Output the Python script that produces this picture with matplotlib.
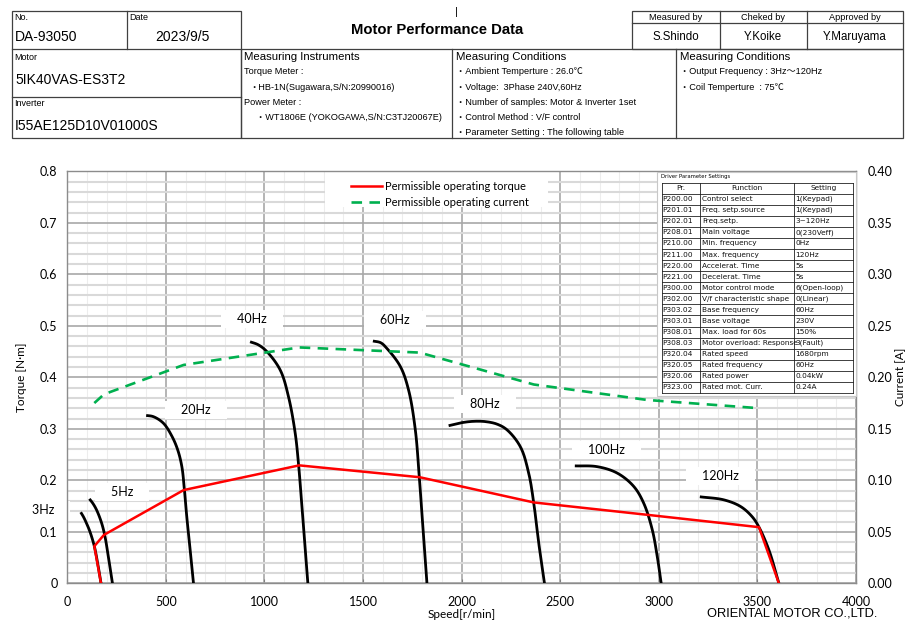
import numpy as np
import matplotlib
matplotlib.use('Agg')
import matplotlib.pyplot as plt
from matplotlib.patches import Rectangle
from matplotlib.lines import Line2D
from matplotlib.ticker import MultipleLocator, FormatStrFormatter

# ---------------- data ----------------
speed_3hz = [68, 82, 98, 115, 137, 157, 171]
torque_3hz = [0.138, 0.129, 0.116, 0.100, 0.072, 0.032, 0.0]
speed_5hz = [112, 130, 149, 174, 191, 208, 229]
torque_5hz = [0.164, 0.155, 0.142, 0.117, 0.091, 0.052, 0.0]
speed_20hz = [400, 437, 487, 530, 560, 581, 594, 606, 623, 640]
torque_20hz = [0.326, 0.3235, 0.311, 0.286, 0.259, 0.2265, 0.181, 0.129, 0.065, 0.0]
speed_40hz = [927, 969, 1012, 1080, 1122, 1156, 1173, 1190, 1220]
torque_40hz = [0.469, 0.463, 0.450, 0.414, 0.362, 0.291, 0.230, 0.149, 0.0]
speed_60hz = [1550, 1590, 1621, 1689, 1731, 1765, 1785, 1802, 1824]
torque_60hz = [0.4705, 0.467, 0.456, 0.421, 0.375, 0.298, 0.207, 0.117, 0.0]
speed_80hz = [1934, 2002, 2060, 2120, 2180, 2230, 2298, 2340, 2366, 2391, 2420]
torque_80hz = [0.306, 0.312, 0.3145, 0.314, 0.309, 0.298, 0.265, 0.214, 0.155, 0.078, 0.0]
speed_100hz = [2574, 2687, 2789, 2873, 2924, 2967, 2992, 3012]
torque_100hz = [0.228, 0.2265, 0.214, 0.188, 0.155, 0.1035, 0.052, 0.0]
speed_120hz = [3208, 3330, 3415, 3474, 3508, 3558, 3609]
torque_120hz = [0.168, 0.162, 0.149, 0.129, 0.109, 0.065, 0.0]

perm_torque_speed = [171, 137, 186, 590, 1176, 1787, 2366, 2941, 3508, 3609]
perm_torque = [0.0, 0.072, 0.094, 0.181, 0.229, 0.206, 0.157, 0.133, 0.109, 0.0]
perm_current_speed = [137, 186, 590, 1176, 1787, 2366, 2941, 3508]
perm_current = [0.175, 0.1835, 0.212, 0.229, 0.224, 0.193, 0.178, 0.170]

freq_labels = ['3Hz', '5Hz', '20Hz', '40Hz', '60Hz', '80Hz', '100Hz', '120Hz']
label_speed = [-123, 278, 653, 935, 1663, 2120, 2734, 3313]
label_torque = [0.142, 0.177, 0.337, 0.513, 0.511, 0.348, 0.259, 0.208]

x_ticks = [0, 500, 1000, 1500, 2000, 2500, 3000, 3500, 4000]

param_codes = ['P200.00', 'P201.01', 'P202.01', 'P208.01', 'P210.00', 'P211.00',
               'P220.00', 'P221.00', 'P300.00', 'P302.00', 'P303.02', 'P303.01',
               'P308.01', 'P308.03', 'P320.04', 'P320.05', 'P320.06', 'P323.00']
param_functions = ['Control select', 'Freq. setp.source', 'Freq.setp.', 'Main voltage',
                   'Min. frequency', 'Max. frequency', 'Accelerat. Time', 'Decelerat. Time',
                   'Motor control mode', 'V/f characteristic shape', 'Base frequency',
                   'Base voltage', 'Max. load for 60s', 'Motor overload: Response',
                   'Rated speed', 'Rated frequency', 'Rated power', 'Rated mot. Curr.']
param_settings = ['1(Keypad)', '1(Keypad)', '3~120Hz', '0(230Veff)', '0Hz', '120Hz',
                  '5s', '5s', '6(Open-loop)', '0(Linear)', '60Hz', '230V', '150%',
                  '3(Fault)', '1680rpm', '60Hz', '0.04kW', '0.24A']

# ---------------- figure ----------------
W, H = 910, 623
plt.rcParams['font.family'] = ['Lato', 'Noto Sans CJK JP']
fig = plt.figure(figsize=(9.1, 6.23), dpi=100)
HDR = ['Liberation Sans', 'Noto Sans CJK JP']


def px_axes(x0, y0, x1, y1):
    return fig.add_axes([x0 / W, 1 - y1 / H, (x1 - x0) / W, (y1 - y0) / H])


def smooth_line(xs, ys, sx=0.197, sy=515.0, n=14):
    """Centripetal Catmull-Rom rendering of a read polyline (like a 'smoothed line' style)."""
    P = np.column_stack([np.asarray(xs, float) * sx, np.asarray(ys, float) * sy])
    P = np.vstack([2 * P[0] - P[1], P, 2 * P[-1] - P[-2]])
    out = []
    for i in range(1, len(P) - 2):
        p0, p1, p2, p3 = P[i - 1], P[i], P[i + 1], P[i + 2]
        d = lambda a, b: max(np.linalg.norm(b - a), 1e-6) ** 0.5
        t0 = 0.0
        t1 = t0 + d(p0, p1)
        t2 = t1 + d(p1, p2)
        t3 = t2 + d(p2, p3)
        t = np.linspace(t1, t2, n)[:, None]
        A1 = (t1 - t) / (t1 - t0) * p0 + (t - t0) / (t1 - t0) * p1
        A2 = (t2 - t) / (t2 - t1) * p1 + (t - t1) / (t2 - t1) * p2
        A3 = (t3 - t) / (t3 - t2) * p2 + (t - t2) / (t3 - t2) * p3
        B1 = (t2 - t) / (t2 - t0) * A1 + (t - t0) / (t2 - t0) * A2
        B2 = (t3 - t) / (t3 - t1) * A2 + (t - t1) / (t3 - t1) * A3
        C = (t2 - t) / (t2 - t1) * B1 + (t - t1) / (t2 - t1) * B2
        out.append(C if i == 1 else C[1:])
    C = np.vstack(out)
    return C[:, 0] / sx, C[:, 1] / sy


# header overlay
hx = px_axes(0, 0, W, H)
hx.set_xlim(0, W)
hx.set_ylim(H, 0)
hx.axis('off')

def hline(x0, x1, y):
    hx.plot([x0, x1], [y, y], color='#404040', lw=0.9)

def vline(x, y0, y1):
    hx.plot([x, x], [y0, y1], color='#404040', lw=0.9)

hx.add_patch(Rectangle((11.5, 10.7), 229, 127.6, fill=False, ec='#404040', lw=0.9))
hline(11.5, 240.5, 49.3)
hline(11.5, 240.5, 96.5)
vline(126.7, 10.7, 49.3)
hx.add_patch(Rectangle((240.5, 49.3), 662, 89, fill=False, ec='#404040', lw=0.9))
vline(452.3, 49.3, 138.3)
vline(675.7, 49.3, 138.3)
hx.add_patch(Rectangle((631.7, 10.7), 271, 38.6, fill=False, ec='#404040', lw=0.9))
hline(631.7, 902.7, 23.3)
vline(720, 10.7, 49.3)
vline(806.7, 10.7, 49.3)

def htext(x, y, s, size, ha='left', weight='normal'):
    hx.text(x, y, s, fontsize=size, ha=ha, va='center', family=HDR, weight=weight)

htext(14, 17.5, 'No.', 6.5)
htext(129, 17.5, 'Date', 6.5)
htext(15, 37, 'DA-93050', 10)
htext(209.5, 37, '2023/9/5', 10, ha='right')
htext(14, 57.5, 'Motor', 6.5)
htext(15, 80, '5IK40VAS-ES3T2', 10)
htext(14, 103, 'Inverter', 6.5)
htext(15, 125.5, 'I55AE125D10V01000S', 10)

htext(244.5, 57, 'Measuring Instruments', 8.2)
htext(244.5, 72, 'Torque Meter :', 6.6)
htext(249, 88, '・HB-1N(Sugawara,S/N:20990016)', 6.6)
htext(244.5, 102.5, 'Power Meter :', 6.6)
htext(256, 118, '・WT1806E (YOKOGAWA,S/N:C3TJ20067E)', 6.6)

htext(456, 57, 'Measuring Conditions', 8.2)
cond_lines = ['・Ambient Temperture : 26.0℃', '・Voltage:  3Phase 240V,60Hz',
              '・Number of samples: Motor & Inverter 1set', '・Control Method : V/F control',
              '・Parameter Setting : The following table']
for i, s in enumerate(cond_lines):
    htext(456, 72 + i * 15.2, s, 6.6)

htext(679.5, 57, 'Measuring Conditions', 8.2)
htext(680, 72, '・Output Frequency : 3Hz～120Hz', 6.6)
htext(680, 87.5, '・Coil Temperture  : 75℃', 6.6)

for cx, t1, t2 in [(675.8, 'Measured by', 'S.Shindo'), (763.3, 'Cheked by', 'Y.Koike'),
                   (854.7, 'Approved by', 'Y.Maruyama')]:
    htext(cx, 17.2, t1, 6.6, ha='center')
    htext(cx, 36.7, t2, 8.3, ha='center')

htext(437.4, 30, 'Motor Performance Data', 10.7, ha='center', weight='bold')
htext(456, 12, '|', 8, ha='center')
htext(792.5, 613.5, 'ORIENTAL MOTOR CO.,LTD.', 9.3, ha='center')

# ---------------- main chart ----------------
ax = px_axes(67.3, 171.3, 856, 583.3)
ax.set_xlim(0, 4000)
ax.set_ylim(0, 0.8)
ax.xaxis.set_major_locator(MultipleLocator(500))
ax.xaxis.set_minor_locator(MultipleLocator(100))
ax.yaxis.set_major_locator(MultipleLocator(0.1))
ax.yaxis.set_minor_locator(MultipleLocator(0.02))
ax.yaxis.set_major_formatter(FormatStrFormatter('%g'))
ax.set_xticks(x_ticks)
ax.grid(which='minor', axis='x', color='#ededed', lw=0.8)
ax.grid(which='minor', axis='y', color='#d9d9d9', lw=1.5)
ax.grid(which='major', color='#a8a8a8', lw=1.2)
ax.set_axisbelow(True)
ax.tick_params(which='minor', length=0)
ax.tick_params(axis='x', which='major', direction='in', length=3, color='#808080',
               labelsize=9, pad=9)
ax.tick_params(axis='y', which='major', length=0, labelsize=9, pad=7)
for sp in ax.spines.values():
    sp.set_color('#8c8c8c')
    sp.set_linewidth(1.0)
ax.set_xlabel('Speed[r/min]', fontsize=8.5, labelpad=1)
ax.set_ylabel('Torque [N·m]', fontsize=8.5, labelpad=9)

# white area behind the legend
ax.add_patch(Rectangle((0.327, 0.913), 0.2825, 0.087, transform=ax.transAxes,
                       fc='white', ec='none', zorder=1))

curves = [(speed_3hz, torque_3hz), (speed_5hz, torque_5hz), (speed_20hz, torque_20hz),
          (speed_40hz, torque_40hz), (speed_60hz, torque_60hz), (speed_80hz, torque_80hz),
          (speed_100hz, torque_100hz), (speed_120hz, torque_120hz)]
for sx_, ty_ in curves:
    xs, ys = smooth_line(sx_, ty_)
    ax.plot(xs, ys, color='black', lw=2.0, zorder=3, solid_capstyle='butt')
ax.plot(perm_torque_speed, perm_torque, color='#ff0000', lw=1.8, zorder=4)

for lab, sx_, ty_ in zip(freq_labels, label_speed, label_torque):
    ax.text(sx_, ty_, '    ' + lab + '    ', fontsize=9, ha='center', va='center', zorder=2.5,
            clip_on=False, bbox=dict(boxstyle='square,pad=0.25', fc='white', ec='none'))

ax2 = ax.twinx()
ax2.set_ylim(0, 0.4)
ax2.yaxis.set_major_locator(MultipleLocator(0.05))
ax2.yaxis.set_major_formatter(FormatStrFormatter('%.2f'))
ax2.tick_params(axis='y', length=0, labelsize=9, pad=8.5)
for sp in ax2.spines.values():
    sp.set_visible(False)
ax2.set_ylabel('Current [A]', fontsize=8.5, labelpad=2)
ax2.plot(perm_current_speed, perm_current, color='#00b04f', lw=1.9, dashes=(4, 2.8), zorder=3)

handles = [Line2D([], [], color='#ff0000', lw=1.8),
           Line2D([], [], color='#00b04f', lw=1.9, dashes=(4, 2.8))]
leg = ax2.legend(handles, ['Permissible operating torque', 'Permissible operating current'],
                 loc='upper left', bbox_to_anchor=(0.3597, 0.976), fontsize=8.0,
                 frameon=False, handlelength=2.8, handletextpad=0.3, labelspacing=0.4,
                 borderpad=0, borderaxespad=0)
leg.set_zorder(10)

# ---------------- parameter table inset ----------------
tx = px_axes(657, 172, 857, 396)
tx.set_xlim(657, 857)
tx.set_ylim(396, 172)
tx.axis('off')
tx.add_patch(Rectangle((657, 172), 199, 223.5, fc='white', ec='#c8c8c8', lw=0.8, clip_on=False))
tx.text(661, 176.5, 'Driver Parameter Settings', fontsize=3.8, family='DejaVu Sans',
        va='center', ha='left')
col_x = [661.5, 700, 794, 853]
top, bot = 182.5, 393
nrows = len(param_codes) + 1
rh = (bot - top) / nrows
for i in range(nrows + 1):
    tx.plot([col_x[0], col_x[-1]], [top + i * rh] * 2, color='#202020', lw=0.6)
for xc in col_x:
    tx.plot([xc, xc], [top, bot], color='#202020', lw=0.6)
TF = dict(fontsize=5.3, family='DejaVu Sans', va='center', color='#111111')
tx.text((col_x[0] + col_x[1]) / 2, top + rh / 2, 'Pr.', ha='center', **TF)
tx.text((col_x[1] + col_x[2]) / 2, top + rh / 2, 'Function', ha='center', **TF)
tx.text((col_x[2] + col_x[3]) / 2, top + rh / 2, 'Setting', ha='center', **TF)
clip = Rectangle((col_x[1], top), col_x[2] - col_x[1], bot - top, transform=tx.transData)
for i, (c, f, s) in enumerate(zip(param_codes, param_functions, param_settings)):
    yc = top + (i + 1.5) * rh
    tx.text(col_x[0] + 1.0, yc, c, ha='left', **TF)
    t = tx.text(col_x[1] + 2.5, yc, f, ha='left', **TF)
    t.set_clip_path(clip)
    tx.text(col_x[2] + 1.5, yc, s, ha='left', **TF)

fig.savefig('out.png', dpi=100)
